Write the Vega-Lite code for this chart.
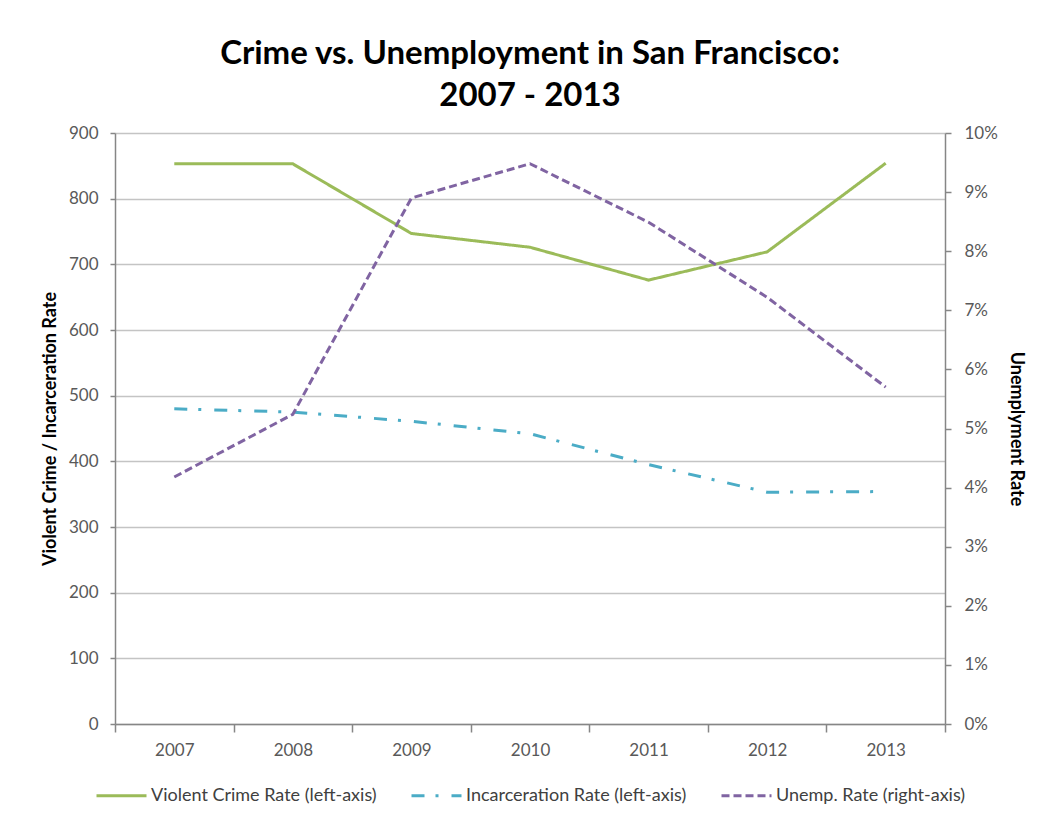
{
  "$schema": "https://vega.github.io/schema/vega-lite/v6.json",
  "width": 830,
  "height": 591,
  "autosize": {"type": "none"},
  "padding": {"left": 115, "top": 133, "right": 100, "bottom": 92},
  "background": "white",
  "title": {
    "text": ["Crime vs. Unemployment in San Francisco:", "2007 - 2013"],
    "font": "Lato",
    "fontSize": 33,
    "fontWeight": "bold",
    "color": "#000000",
    "lineHeight": 42,
    "offset": 11,
    "anchor": "middle"
  },
  "data": {
    "values": [
      {"year": 2007, "series": "Violent Crime Rate (left-axis)", "value": 853},
      {"year": 2008, "series": "Violent Crime Rate (left-axis)", "value": 853},
      {"year": 2009, "series": "Violent Crime Rate (left-axis)", "value": 747},
      {"year": 2010, "series": "Violent Crime Rate (left-axis)", "value": 726},
      {"year": 2011, "series": "Violent Crime Rate (left-axis)", "value": 676},
      {"year": 2012, "series": "Violent Crime Rate (left-axis)", "value": 719},
      {"year": 2013, "series": "Violent Crime Rate (left-axis)", "value": 854},
      {"year": 2007, "series": "Incarceration Rate (left-axis)", "value": 480},
      {"year": 2008, "series": "Incarceration Rate (left-axis)", "value": 475},
      {"year": 2009, "series": "Incarceration Rate (left-axis)", "value": 461},
      {"year": 2010, "series": "Incarceration Rate (left-axis)", "value": 442},
      {"year": 2011, "series": "Incarceration Rate (left-axis)", "value": 395},
      {"year": 2012, "series": "Incarceration Rate (left-axis)", "value": 353},
      {"year": 2013, "series": "Incarceration Rate (left-axis)", "value": 354},
      {"year": 2007, "series": "Unemp. Rate (right-axis)", "value": 0.0418},
      {"year": 2008, "series": "Unemp. Rate (right-axis)", "value": 0.0524},
      {"year": 2009, "series": "Unemp. Rate (right-axis)", "value": 0.089},
      {"year": 2010, "series": "Unemp. Rate (right-axis)", "value": 0.0948},
      {"year": 2011, "series": "Unemp. Rate (right-axis)", "value": 0.0849},
      {"year": 2012, "series": "Unemp. Rate (right-axis)", "value": 0.0722},
      {"year": 2013, "series": "Unemp. Rate (right-axis)", "value": 0.057}
    ]
  },
  "encoding": {
    "x": {
      "field": "year",
      "type": "quantitative",
      "scale": {"domain": [2006.5, 2013.5], "nice": false, "zero": false},
      "axis": {
        "title": null,
        "values": [2006.5, 2007.5, 2008.5, 2009.5, 2010.5, 2011.5, 2012.5, 2013.5],
        "labelExpr": "datum.value < 2013 ? format(datum.value + 0.5, 'd') : ''",
        "labelOffset": 59.3,
        "labelAlign": "center",
        "grid": false,
        "tickSize": 8,
        "labelPadding": 10,
        "labelFlush": false,
        "labelOverlap": false
      }
    },
    "color": {
      "field": "series",
      "type": "nominal",
      "scale": {
        "domain": ["Violent Crime Rate (left-axis)", "Incarceration Rate (left-axis)", "Unemp. Rate (right-axis)"],
        "range": ["#9BBB59", "#4BACC6", "#8064A2"]
      },
      "legend": {"title": null}
    },
    "strokeDash": {
      "field": "series",
      "type": "nominal",
      "scale": {
        "domain": ["Violent Crime Rate (left-axis)", "Incarceration Rate (left-axis)", "Unemp. Rate (right-axis)"],
        "range": [[1, 0], [13, 11, 3, 13], [8, 4]]
      },
      "legend": {"title": null}
    }
  },
  "layer": [
    {
      "transform": [{"filter": "datum.series !== 'Unemp. Rate (right-axis)'"}],
      "mark": {"type": "line", "strokeWidth": 3, "strokeCap": "butt"},
      "encoding": {
        "y": {
          "field": "value",
          "type": "quantitative",
          "scale": {"domain": [0, 900], "nice": false},
          "axis": {
            "title": "Violent Crime / Incarceration Rate",
            "values": [0, 100, 200, 300, 400, 500, 600, 700, 800, 900],
            "grid": true,
            "tickSize": 5,
            "labelPadding": 12,
            "titlePadding": 9
          }
        }
      }
    },
    {
      "transform": [{"filter": "datum.series === 'Unemp. Rate (right-axis)'"}],
      "mark": {"type": "line", "strokeWidth": 3, "strokeCap": "butt"},
      "encoding": {
        "y": {
          "field": "value",
          "type": "quantitative",
          "scale": {"domain": [0, 0.1], "nice": false},
          "axis": {
            "title": "Unemplyment Rate",
            "orient": "right",
            "format": ".0%",
            "values": [0, 0.01, 0.02, 0.03, 0.04, 0.05, 0.06, 0.07, 0.08, 0.09, 0.1],
            "grid": false,
            "tickSize": 6,
            "labelPadding": 13,
            "titlePadding": 9
          }
        }
      }
    }
  ],
  "resolve": {"scale": {"y": "independent"}},
  "config": {
    "view": {"stroke": null},
    "font": "Lato",
    "axis": {
      "labelFont": "Lato",
      "labelFontSize": 17,
      "labelColor": "#595959",
      "titleFont": "Lato",
      "titleFontSize": 18,
      "titleFontWeight": "bold",
      "titleColor": "#000000",
      "domainColor": "#868686",
      "domainWidth": 1.5,
      "tickColor": "#868686",
      "tickWidth": 1.5,
      "gridColor": "#c4c4c4",
      "gridWidth": 1.5
    },
    "legend": {
      "orient": "none",
      "legendX": -20,
      "legendY": 636,
      "direction": "horizontal",
      "symbolType": "stroke",
      "symbolSize": 2500,
      "symbolStrokeWidth": 3,
      "labelFont": "Lato",
      "labelFontSize": 18,
      "labelColor": "#404040",
      "labelOffset": 3,
      "columnPadding": 28,
      "labelLimit": 400
    }
  }
}
